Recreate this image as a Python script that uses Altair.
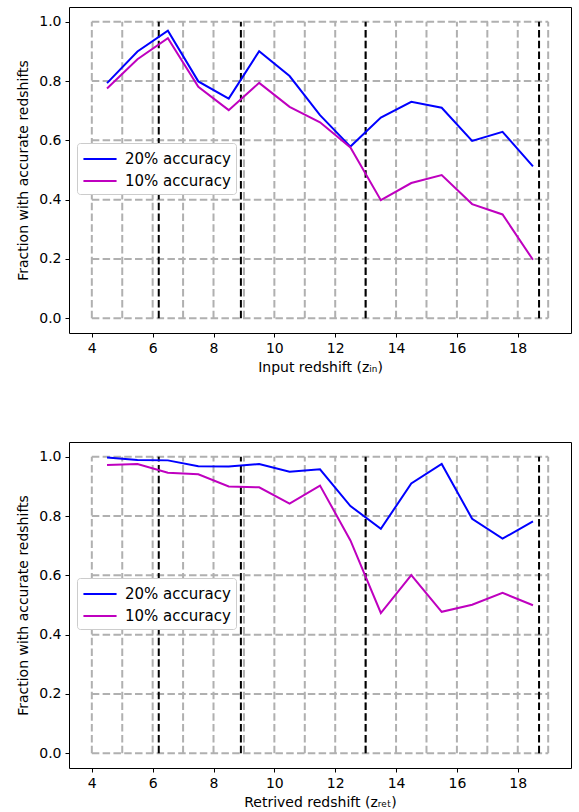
import altair as alt
import pandas as pd

# ---- data ----
z_bins = [4.5, 5.5, 6.5, 7.5, 8.5, 9.5, 10.5, 11.5, 12.5, 13.5, 14.5, 15.5, 16.5, 17.5, 18.5]

top_acc20 = [0.793, 0.900, 0.970, 0.799, 0.741, 0.901, 0.817, 0.685, 0.579, 0.677, 0.730, 0.710, 0.598, 0.629, 0.512]
top_acc10 = [0.775, 0.874, 0.945, 0.781, 0.702, 0.794, 0.713, 0.661, 0.576, 0.398, 0.456, 0.483, 0.385, 0.350, 0.197]

bot_acc20 = [0.998, 0.989, 0.988, 0.968, 0.967, 0.976, 0.950, 0.958, 0.834, 0.757, 0.910, 0.976, 0.791, 0.724, 0.782]
bot_acc10 = [0.972, 0.976, 0.946, 0.941, 0.900, 0.897, 0.842, 0.903, 0.718, 0.473, 0.601, 0.477, 0.501, 0.541, 0.499]

grid_x = list(range(4, 20))
grid_y = [0.0, 0.2, 0.4, 0.6, 0.8, 1.0]
boundaries = [6.2, 8.9, 13.0, 18.7]

series_names = ["20% accuracy", "10% accuracy"]
series_colors = ["#0000ff", "#bf00bf"]

x_ticks = [4, 6, 8, 10, 12, 14, 16, 18]
y_ticks = [0.0, 0.2, 0.4, 0.6, 0.8, 1.0]

FONT = "DejaVu Sans"
FS = 14
W, H = 502, 326


def panel(acc20, acc10, xtitle):
    lines = pd.DataFrame(
        {
            "z": z_bins + z_bins,
            "frac": acc20 + acc10,
            "series": [series_names[0]] * len(z_bins) + [series_names[1]] * len(z_bins),
            "ord": list(range(len(z_bins))) * 2,
        }
    )
    vgrid = pd.DataFrame({"x": grid_x, "y0": [grid_y[0]] * len(grid_x), "y1": [grid_y[-1]] * len(grid_x)})
    hgrid = pd.DataFrame({"y": grid_y, "x0": [grid_x[0]] * len(grid_y), "x1": [grid_x[-1]] * len(grid_y)})
    bnd = pd.DataFrame({"x": boundaries, "y0": [grid_y[0]] * len(boundaries), "y1": [grid_y[-1]] * len(boundaries)})

    xs = alt.Scale(domain=[3.25, 19.75], nice=False, zero=False)
    ys = alt.Scale(domain=[-0.05, 1.05], nice=False, zero=False)

    xaxis = alt.Axis(values=x_ticks, format="d", title=xtitle, grid=False, domain=False,
                     tickSize=4, tickColor="black", tickWidth=1, labelPadding=4,
                     labelFontSize=FS, titleFontSize=FS, labelColor="black", titleColor="black",
                     labelFont=FONT, titleFont=FONT, titleFontWeight="normal", titlePadding=5)
    yaxis = alt.Axis(values=y_ticks, format=".1f", title="Fraction with accurate redshifts", grid=False,
                     domain=False, tickSize=4, tickColor="black", tickWidth=1, labelPadding=4,
                     labelFontSize=FS, titleFontSize=FS, labelColor="black", titleColor="black",
                     labelFont=FONT, titleFont=FONT, titleFontWeight="normal", titlePadding=8)

    vg = alt.Chart(vgrid).mark_rule(color="#b0b0b0", strokeWidth=2, strokeDash=[7.5, 3.3]).encode(
        x=alt.X("x:Q", scale=xs, axis=xaxis),
        y=alt.Y("y0:Q", scale=ys, axis=yaxis),
        y2="y1:Q",
    )
    hg = alt.Chart(hgrid).mark_rule(color="#b0b0b0", strokeWidth=2, strokeDash=[7.5, 3.3]).encode(
        y=alt.Y("y:Q", scale=ys),
        x=alt.X("x0:Q", scale=xs),
        x2="x1:Q",
    )
    bl = alt.Chart(bnd).mark_rule(color="black", strokeWidth=2, strokeDash=[7.5, 3.3]).encode(
        x=alt.X("x:Q", scale=xs),
        y=alt.Y("y0:Q", scale=ys),
        y2="y1:Q",
    )
    ln = alt.Chart(lines).mark_line(strokeWidth=2).encode(
        x=alt.X("z:Q", scale=xs),
        y=alt.Y("frac:Q", scale=ys),
        color=alt.Color(
            "series:N",
            scale=alt.Scale(domain=series_names, range=series_colors),
            legend=alt.Legend(
                title=None, orient="none", legendX=8, legendY=136,
                symbolType="M-1.7,0L1.7,0", symbolSize=380, symbolStrokeWidth=2,
                symbolOffset=7,
                labelFontSize=15, labelFont=FONT, labelColor="black",
                fillColor="white", strokeColor="#cccccc", cornerRadius=3,
                padding=5, rowPadding=3, labelOffset=14,
            ),
        ),
        order="ord:Q",
    )
    return alt.layer(vg, hg, bl, ln).properties(width=W, height=H)


top = panel(top_acc20, top_acc10, "Input redshift (zᵢₙ)")
bot = panel(bot_acc20, bot_acc10, "Retrived redshift (zᵣₑₜ)")

chart = (
    alt.vconcat(top, bot, spacing=66)
    .resolve_scale(color="independent")
    .properties(padding={"left": 16, "top": 6, "right": 4, "bottom": 2}, background="white")
    .configure_view(stroke="black", strokeWidth=1)
)

chart.save("out.html", embed_options={"renderer": "svg", "actions": False})
